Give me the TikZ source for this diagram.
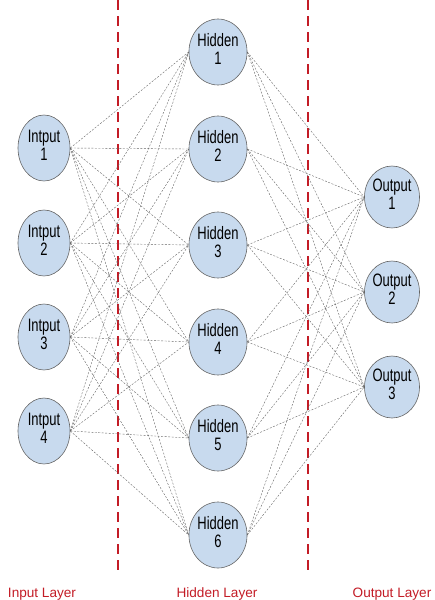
\documentclass[tikz,border=0pt]{standalone}
\usepackage{fontspec}
\setmainfont{Liberation Sans}
\usetikzlibrary{shapes.geometric}
\definecolor{nodefill}{RGB}{200,218,238}
\definecolor{layerred}{RGB}{195,28,38}
\newcommand{\nlab}[2]{\scalebox{0.72}[1]{\begin{tabular}{@{}c@{}}#1\\[-1pt]#2\end{tabular}}}
\begin{document}
\begin{tikzpicture}[x=1pt,y=-1pt,
  neuron/.style={ellipse,draw=black!60,line width=0.6pt,fill=nodefill,
    minimum width=52pt,minimum height=66pt,inner sep=0pt,
    font=\fontsize{18}{19}\selectfont,text=black},
  outneuron/.style={neuron,minimum width=51pt,minimum height=62pt},
  link/.style={black!60,line width=0.4pt,dash pattern=on 2pt off 1.5pt},
  divider/.style={layerred,line width=1.8pt,dash pattern=on 10pt off 6pt},
  layerlab/.style={text=layerred,font=\fontsize{13.6}{15}\selectfont,anchor=base}]
\useasboundingbox (0,0) rectangle (434,600);
% dividers
\coordinate (d1t) at (118,0); \coordinate (d1b) at (118,576);
\coordinate (d2t) at (308,0); \coordinate (d2b) at (308,576);
\draw[divider] (d1t) -- (d1b);
\draw[divider] (d2t) -- (d2b);
% nodes
\foreach \i/\y in {1/148,2/243,3/337,4/431}
  \node[neuron] (in\i) at (44,\y) {\nlab{Intput}{\i}};
\foreach \i/\y in {1/52,2/149,3/245,4/342,5/438,6/535}
  \node[neuron] (h\i) at (218,\y) {\nlab{Hidden}{\i}};
\foreach \i/\y in {1/197,2/292,3/387}
  \node[outneuron] (out\i) at (392,\y) {\nlab{Output}{\i}};
% links
\foreach \i in {1,...,4}
  \foreach \j in {1,...,6}
    \draw[link] (in\i.east) -- (h\j.west);
\foreach \j in {1,...,6}
  \foreach \k in {1,2,3}
    \draw[link] (h\j.east) -- (out\k.west);
% labels
\node[layerlab] (l1) at (42,597) {Input Layer};
\node[layerlab] (l2) at (217,597) {Hidden Layer};
\node[layerlab] (l3) at (392,597) {Output Layer};
\end{tikzpicture}
\end{document}
